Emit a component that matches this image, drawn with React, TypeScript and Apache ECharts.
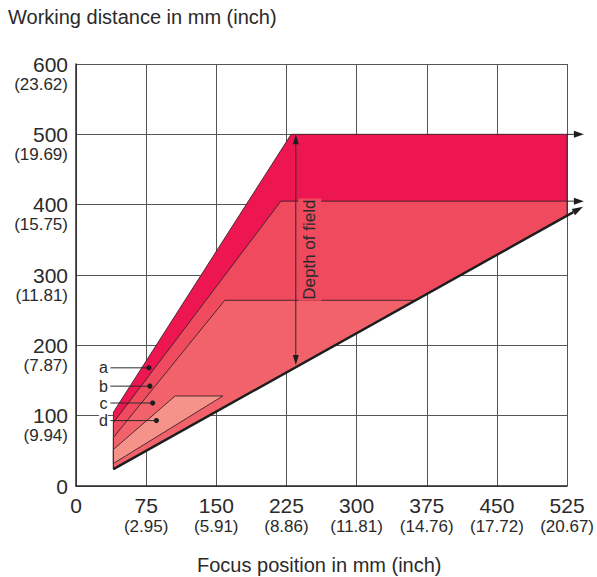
import React, { useEffect, useRef } from 'react';
import * as echarts from 'echarts';

// Axis ticks and inch equivalents
const xTicks = [0, 75, 150, 225, 300, 375, 450, 525];
const xInch = ['', '2.95', '5.91', '8.86', '11.81', '14.76', '17.72', '20.67'];
const yTicks = [0, 100, 200, 300, 400, 500, 600];
const yInch = ['', '9.94', '7.87', '11.81', '15.75', '19.69', '23.62'];

// Working-range zones (focus position mm, working distance mm)
const zoneA = [[40, 24], [40, 105], [230, 500], [525, 500], [525, 385]];
const zoneB = [[40, 24], [40, 90], [219, 405], [525, 405], [525, 385]];
const zoneC = [[40, 24], [40, 69], [159, 264], [362, 264]];
const zoneD = [[40, 32], [40, 52], [106, 128], [157, 128]];
const zones = [zoneA, zoneB, zoneC, zoneD];
const zoneNames = ['a', 'b', 'c', 'd'];
const zoneColors = ['#ED1651', '#EF4A5E', '#F1626A', '#F5938A'];

// Lower limit line and continuation arrows
const lowerLimit = [[40, 24], [542, 397]];
const arrowA = [[525, 500], [543, 500]];
const arrowB = [[525, 405], [543, 405]];
const depthArrow = [[235, 500], [235, 172]];
const depthLabelPos = [250, 336];
const labelDots = [[78, 168], [79, 142], [82, 118], [86, 93]];
const zoneLeft = 40;

const FONT = "'Liberation Sans', Arial, sans-serif";
const TXT = '#2a2a2a';
const LINE = '#2a2a2a';

function arrowHead(p1: number[], p2: number[], len: number, wid: number) {
  const dx = p2[0] - p1[0];
  const dy = p2[1] - p1[1];
  const L = Math.hypot(dx, dy) || 1;
  const ux = dx / L;
  const uy = dy / L;
  const bx = p2[0] - ux * len;
  const by = p2[1] - uy * len;
  const nx = (-uy * wid) / 2;
  const ny = (ux * wid) / 2;
  return {
    base: [bx, by],
    pts: [p2, [bx + nx, by + ny], [bx - nx, by - ny]],
  };
}

export default function App() {
  const ref = useRef<HTMLDivElement>(null);
  useEffect(() => {
    if (!ref.current) return;
    const chart = echarts.init(ref.current, undefined, { renderer: 'svg' });
    const option: any = {
      animation: false,
      backgroundColor: '#ffffff',
      title: [
        {
          text: 'Working distance in mm (inch)',
          left: 8,
          top: 7,
          padding: 0,
          textStyle: { fontSize: 20, fontWeight: 'normal', color: TXT, fontFamily: FONT },
        },
        {
          text: 'Focus position in mm (inch)',
          left: 197,
          top: 555,
          padding: 0,
          textStyle: { fontSize: 20, fontWeight: 'normal', color: TXT, fontFamily: FONT },
        },
      ],
      grid: { left: 76, right: 29, top: 64, bottom: 91, containLabel: false },
      xAxis: {
        type: 'value',
        min: 0,
        max: 525,
        interval: 75,
        axisLine: { show: true, onZero: false, lineStyle: { color: LINE, width: 1.5 } },
        axisTick: { show: false },
        splitLine: { show: true, lineStyle: { color: '#555', width: 1 } },
        axisLabel: {
          margin: 9,
          formatter: (v: number) => {
            const i = xTicks.indexOf(v);
            return xInch[i] ? `{n|${v}}\n{p|(${xInch[i]})}` : `{n|${v}}`;
          },
          rich: {
            n: { fontSize: 21, lineHeight: 21, color: TXT, fontFamily: FONT },
            p: { fontSize: 17, lineHeight: 21, color: TXT, fontFamily: FONT },
          },
        },
      },
      yAxis: {
        type: 'value',
        min: 0,
        max: 600,
        interval: 100,
        axisLine: { show: true, onZero: false, lineStyle: { color: LINE, width: 1.5 } },
        axisTick: { show: false },
        splitLine: { show: true, lineStyle: { color: '#555', width: 1 } },
        axisLabel: {
          margin: 8,
          align: 'right',
          padding: [20, 0, 0, 0],
          formatter: (v: number) => {
            const i = yTicks.indexOf(v);
            return `{n|${v}}\n{p|${yInch[i] ? '(' + yInch[i] + ')' : ' '}}`;
          },
          rich: {
            n: { fontSize: 21, lineHeight: 20, color: TXT, fontFamily: FONT, align: 'right' },
            p: { fontSize: 17, lineHeight: 20, color: TXT, fontFamily: FONT, align: 'right' },
          },
        },
      },
      series: [
        {
          type: 'custom',
          name: 'zones',
          silent: true,
          z: 3,
          data: zones.map((_, i) => [i, 0]),
          renderItem: (params: any, api: any) => {
            const i = params.dataIndex;
            const pts = zones[i].map((p) => api.coord(p));
            return {
              type: 'polygon',
              shape: { points: pts },
              style: { fill: zoneColors[i], stroke: '#3a2228', lineWidth: 0.9 },
            };
          },
        },
        {
          type: 'custom',
          name: 'annotations',
          silent: true,
          z: 4,
          data: [[0, 0]],
          renderItem: (_params: any, api: any) => {
            const children: any[] = [];
            // lower limit thick line with arrow
            const l1 = api.coord(lowerLimit[0]);
            const l2 = api.coord(lowerLimit[1]);
            const hl = arrowHead(l1, l2, 11, 7);
            children.push({
              type: 'line',
              shape: { x1: l1[0], y1: l1[1], x2: hl.base[0], y2: hl.base[1] },
              style: { stroke: '#1e1e1e', lineWidth: 2.4 },
            });
            children.push({ type: 'polygon', shape: { points: hl.pts }, style: { fill: '#1e1e1e' } });
            // horizontal continuation arrows
            [arrowA, arrowB].forEach((ar) => {
              const a = api.coord(ar[0]);
              const b = api.coord(ar[1]);
              const h = arrowHead(a, b, 10, 7);
              children.push({
                type: 'line',
                shape: { x1: a[0], y1: a[1], x2: h.base[0], y2: h.base[1] },
                style: { stroke: LINE, lineWidth: 1 },
              });
              children.push({ type: 'polygon', shape: { points: h.pts }, style: { fill: '#1e1e1e' } });
            });
            // depth of field double arrow
            const d1 = api.coord(depthArrow[0]);
            const d2 = api.coord(depthArrow[1]);
            const hTop = arrowHead(d2, d1, 10, 6);
            const hBot = arrowHead(d1, d2, 10, 6);
            children.push({
              type: 'line',
              shape: { x1: hTop.base[0], y1: hTop.base[1], x2: hBot.base[0], y2: hBot.base[1] },
              style: { stroke: LINE, lineWidth: 1 },
            });
            children.push({ type: 'polygon', shape: { points: hTop.pts }, style: { fill: '#1e1e1e' } });
            children.push({ type: 'polygon', shape: { points: hBot.pts }, style: { fill: '#1e1e1e' } });
            const dl = api.coord(depthLabelPos);
            children.push({
              type: 'text',
              x: dl[0],
              y: dl[1],
              rotation: Math.PI / 2,
              style: {
                text: 'Depth of field',
                align: 'center',
                verticalAlign: 'middle',
                fontSize: 17,
                fontFamily: FONT,
                fill: TXT,
                backgroundColor: zoneColors[1],
                padding: [3, 1],
              },
            });
            // zone labels a-d
            const left = api.coord([zoneLeft, 0])[0];
            labelDots.forEach((p, i) => {
              const c = api.coord(p);
              children.push({
                type: 'line',
                shape: { x1: left - 3, y1: c[1], x2: c[0], y2: c[1] },
                style: { stroke: LINE, lineWidth: 1 },
              });
              children.push({ type: 'circle', shape: { cx: c[0], cy: c[1], r: 2.6 }, style: { fill: '#1e1e1e' } });
              const last = i === labelDots.length - 1;
              children.push({
                type: 'text',
                x: left - 10,
                y: c[1],
                style: {
                  text: zoneNames[i],
                  align: 'center',
                  verticalAlign: 'middle',
                  fontSize: 16,
                  lineHeight: 14,
                  fontFamily: FONT,
                  fill: TXT,
                  backgroundColor: last ? '#ffffff' : undefined,
                  padding: 0,
                },
              });
            });
            return { type: 'group', children };
          },
        },
      ],
    };
    chart.setOption(option);
    return () => chart.dispose();
  }, []);
  return (
    <div
      ref={ref}
      style={{ position: 'absolute', left: 0, top: 0, width: 597, height: 577 }}
    />
  );
}
